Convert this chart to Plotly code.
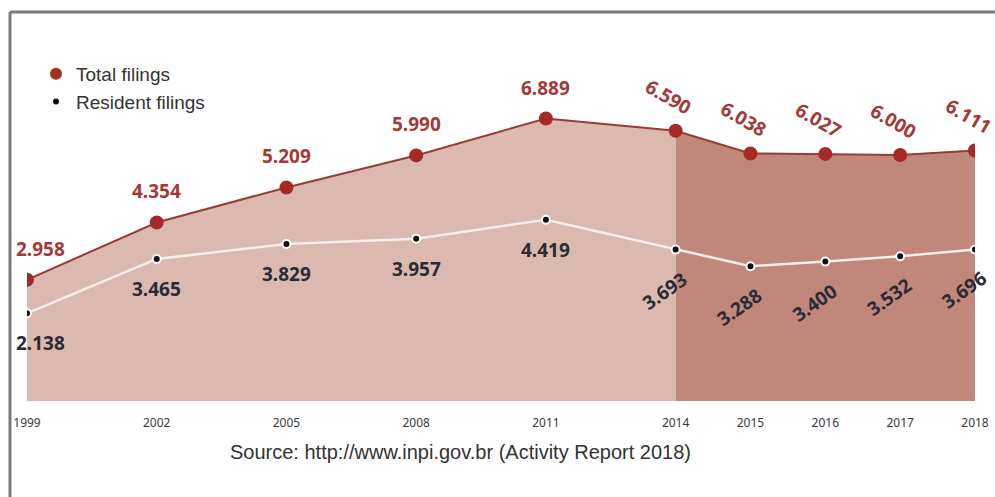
import plotly.graph_objects as go

# ---- data ----
years = [1999, 2002, 2005, 2008, 2011, 2014, 2015, 2016, 2017, 2018]
total_filings = [2.958, 4.354, 5.209, 5.990, 6.889, 6.590, 6.038, 6.027, 6.000, 6.111]
resident_filings = [2.138, 3.465, 3.829, 3.957, 4.419, 3.693, 3.288, 3.400, 3.532, 3.696]
total_labels = ["2.958", "4.354", "5.209", "5.990", "6.889", "6.590", "6.038", "6.027", "6.000", "6.111"]
resident_labels = ["2.138", "3.465", "3.829", "3.957", "4.419", "3.693", "3.288", "3.400", "3.532", "3.696"]
tick_labels = [str(y) for y in years]
split_year = 2014
source_text = "Source: http://www.inpi.gov.br (Activity Report 2018)"


# piecewise axis scale: 3-year steps until 2014, then annual steps
def xscale(y):
    if y <= split_year:
        return (y - years[0]) * 130 / 3
    return (split_year - years[0]) * 130 / 3 + (y - split_year) * 75


xs = [xscale(y) for y in years]

RED_TEXT = "#a23a38"
RED_LINE = "#9c3a35"
RED_MARK = "#a52a28"
LIGHT_FILL = "#dcb9af"
DARK_FILL = "#c1877a"
DARK_TEXT = "#2b2b35"
LABEL_FONT = "Noto Sans"

fig = go.Figure()

idx_a = [i for i, y in enumerate(years) if y <= split_year]
idx_b = [i for i, y in enumerate(years) if y >= split_year]

fig.add_trace(go.Scatter(x=[xs[i] for i in idx_a], y=[total_filings[i] for i in idx_a],
                         mode="lines", line=dict(width=0), fill="tozeroy",
                         fillcolor=LIGHT_FILL, showlegend=False, hoverinfo="skip"))
fig.add_trace(go.Scatter(x=[xs[i] for i in idx_b], y=[total_filings[i] for i in idx_b],
                         mode="lines", line=dict(width=0), fill="tozeroy",
                         fillcolor=DARK_FILL, showlegend=False, hoverinfo="skip"))

fig.add_trace(go.Scatter(x=xs, y=total_filings, mode="lines+markers",
                         line=dict(color=RED_LINE, width=2),
                         marker=dict(color=RED_MARK, size=14),
                         showlegend=False, name="Total filings"))
fig.add_trace(go.Scatter(x=xs, y=resident_filings, mode="lines+markers",
                         line=dict(color="#f6eeea", width=2.5),
                         marker=dict(color="#111111", size=8, line=dict(color="white", width=2)),
                         showlegend=False, name="Resident filings"))

# legend entries
fig.add_trace(go.Scatter(x=[None], y=[None], mode="markers", name="Total filings",
                         marker=dict(color="#a0341f", size=12)))
fig.add_trace(go.Scatter(x=[None], y=[None], mode="markers", name="Resident filings",
                         marker=dict(color="#111111", size=6)))

annotations = []
for i, y in enumerate(years):
    rotated = y >= split_year
    first = i == 0
    annotations.append(dict(
        x=xs[i], y=total_filings[i], xref="x", yref="y", text=total_labels[i],
        showarrow=False, textangle=30 if rotated else 0,
        xshift=-7 if rotated else (13 if first else 0), yshift=34 if rotated else 31,
        font=dict(family=LABEL_FONT, size=19, color=RED_TEXT, weight="bold")))
    annotations.append(dict(
        x=xs[i], y=resident_filings[i], xref="x", yref="y", text=resident_labels[i],
        showarrow=False, textangle=-35 if rotated else 0,
        xshift=-11 if rotated else (13 if first else 0), yshift=-41 if rotated else -30,
        font=dict(family=LABEL_FONT, size=19, color=DARK_TEXT, weight="bold")))

W, H = 995, 497
ML, MR, MT, MB = 27, W - 975, 40, H - 401
pw, ph = W - ML - MR, H - MT - MB


def px_x(p):
    return (p - ML) / pw


def px_y(p):
    return (H - MB - p) / ph


annotations.append(dict(x=px_x(460), y=px_y(465), xref="paper", yref="paper", text=source_text,
                        showarrow=False, font=dict(family="Liberation Sans", size=20, color="#333333")))

fig.update_layout(
    width=W, height=H,
    margin=dict(l=ML, r=MR, t=MT, b=MB, autoexpand=False),
    paper_bgcolor="white", plot_bgcolor="white",
    xaxis=dict(range=[0, xscale(years[-1])], tickmode="array", tickvals=xs, ticktext=tick_labels,
               showgrid=False, zeroline=False, showline=False, automargin=False,
               ticks="outside", ticklen=11, tickcolor="rgba(0,0,0,0)",
               tickfont=dict(family=LABEL_FONT, size=12, color="#3a3a3a")),
    yaxis=dict(range=[0, ph / 41.0], visible=False, automargin=False),
    legend=dict(x=px_x(36), y=px_y(55), xanchor="left", yanchor="top",
                bgcolor="rgba(0,0,0,0)", itemsizing="trace",
                font=dict(family="Liberation Sans", size=19, color="#333333"),
                tracegroupgap=0),
    annotations=annotations,
    shapes=[
        dict(type="line", xref="paper", yref="paper", x0=px_x(10), x1=px_x(1100),
             y0=px_y(12), y1=px_y(12), line=dict(color="#7a7a7a", width=3)),
        dict(type="line", xref="paper", yref="paper", x0=px_x(10), x1=px_x(10),
             y0=px_y(12), y1=px_y(600), line=dict(color="#7a7a7a", width=3)),
    ],
)

fig.write_html("out.html", post_script="document.body.style.margin='0px';",
               config={"displayModeBar": False})
